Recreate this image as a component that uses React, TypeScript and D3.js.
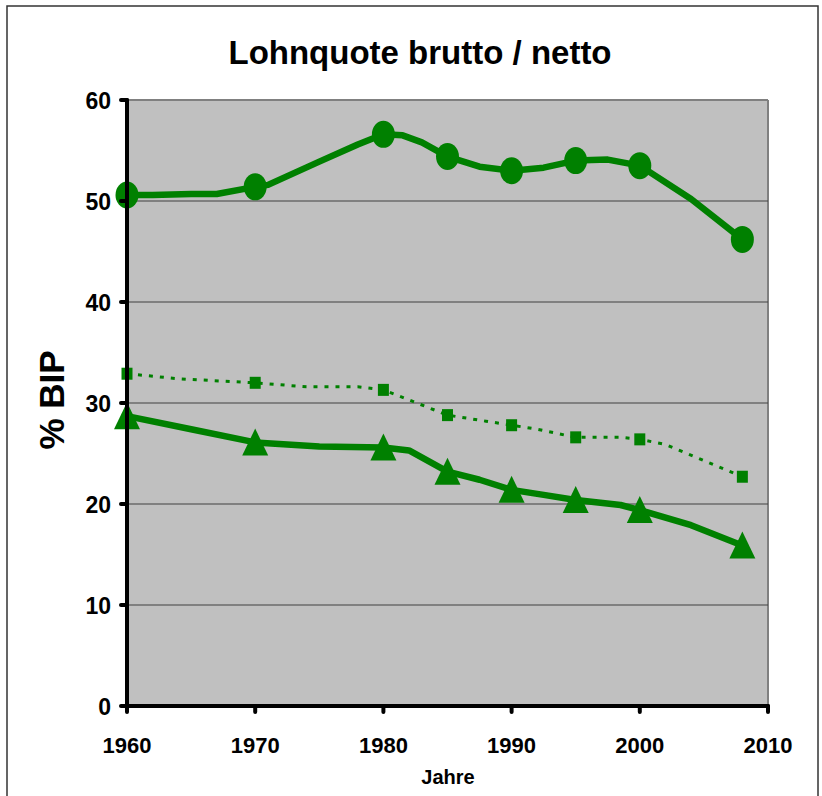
import React from "react";
import * as d3 from "d3";

const title = "Lohnquote brutto / netto";
const yTicks = [0, 10, 20, 30, 40, 50, 60];
const xTicks = [1960, 1970, 1980, 1990, 2000, 2010];
const markerYears = [1960, 1970, 1980, 1985, 1990, 1995, 2000, 2008];

const bruttoYears = [1960, 1962, 1965, 1967, 1970, 1971, 1975, 1978, 1980, 1981.5, 1983, 1985, 1987.5, 1990, 1992.5, 1995, 1997.5, 2000, 2004, 2008];
const bruttoValues = [50.6, 50.6, 50.7, 50.7, 51.4, 51.6, 53.9, 55.6, 56.6, 56.5, 55.8, 54.4, 53.4, 53.0, 53.3, 54.0, 54.1, 53.5, 50.2, 46.2];

const nettoYears = [1960, 1964, 1970, 1974, 1978, 1980, 1985, 1988, 1990, 1992, 1993.5, 1995, 1998.5, 2000, 2002, 2003.5, 2008];
const nettoValues = [32.9, 32.4, 32.0, 31.6, 31.6, 31.3, 28.8, 28.2, 27.8, 27.4, 27.0, 26.6, 26.6, 26.4, 25.9, 25.1, 22.7];

const lowerYears = [1960, 1965, 1970, 1975, 1980, 1982, 1985, 1987.5, 1990, 1992.5, 1995, 1998.5, 2000, 2004, 2008];
const lowerValues = [28.7, 27.4, 26.1, 25.7, 25.6, 25.3, 23.2, 22.4, 21.4, 20.9, 20.4, 19.9, 19.4, 17.9, 15.9];

const GREEN = "#008000";
const FONT = "'Liberation Sans', Arial, sans-serif";

type Pt = { x: number; y: number };
const zip = (xs: number[], ys: number[]): Pt[] => xs.map((x, i) => ({ x, y: ys[i] }));

export default function App() {
  const W = 822, H = 796;
  const x = d3.scaleLinear().domain([1960, 2010]).range([127, 768]);
  const y = d3.scaleLinear().domain([0, 60]).range([706, 100]);
  const line = d3.line<Pt>().x(d => x(d.x)).y(d => y(d.y)).curve(d3.curveLinear);

  const brutto = zip(bruttoYears, bruttoValues);
  const netto = zip(nettoYears, nettoValues);
  const lower = zip(lowerYears, lowerValues);
  const pick = (pts: Pt[]) => pts.filter(p => markerYears.includes(p.x));

  return (
    <div style={{ position: "absolute", left: 0, top: 0 }}>
      <svg width={W} height={H} style={{ display: "block" }}>
        <rect x={0} y={0} width={W} height={H} fill="#fff" />
        <rect x={7} y={6} width={811} height={800} fill="none" stroke="#333" strokeWidth={1.5} />
        <text x={420} y={64} textAnchor="middle" fontFamily={FONT} fontWeight="bold" fontSize={33}>{title}</text>
        {/* plot area */}
        <rect x={x(1960)} y={y(60)} width={x(2010) - x(1960)} height={y(0) - y(60)} fill="#C0C0C0" />
        <line x1={x(1960)} x2={x(2010)} y1={y(60)} y2={y(60)} stroke="#808080" strokeWidth={2} />
        <line x1={x(2010)} x2={x(2010)} y1={y(60)} y2={y(0)} stroke="#808080" strokeWidth={2} />
        {yTicks.filter(t => t > 0 && t < 60).map(t => (
          <line key={t} x1={x(1960)} x2={x(2010)} y1={y(t)} y2={y(t)} stroke="#404040" strokeWidth={1.2} />
        ))}
        {/* series */}
        <path d={line(netto) || ""} fill="none" stroke={GREEN} strokeWidth={3} strokeDasharray="4 7" />
        <path d={line(lower) || ""} fill="none" stroke={GREEN} strokeWidth={6.5} strokeLinejoin="round" />
        <path d={line(brutto) || ""} fill="none" stroke={GREEN} strokeWidth={6.5} strokeLinejoin="round" />
        {pick(netto).map(p => (
          <rect key={"n" + p.x} x={x(p.x) - 5.5} y={y(p.y) - 6} width={11} height={12} fill={GREEN} />
        ))}
        {pick(lower).map(p => {
          const cx = x(p.x), cy = y(p.y);
          return <path key={"l" + p.x} d={`M${cx},${cy - 14}L${cx + 13},${cy + 13}L${cx - 13},${cy + 13}Z`} fill={GREEN} />;
        })}
        {pick(brutto).map(p => (
          <ellipse key={"b" + p.x} cx={x(p.x)} cy={y(p.y)} rx={11.5} ry={13.5} fill={GREEN} />
        ))}
        {/* axes */}
        <line x1={x(1960)} x2={x(1960)} y1={y(60)} y2={y(0)} stroke="#000" strokeWidth={4} strokeLinecap="round" />
        <line x1={x(1960)} x2={x(2010)} y1={y(0)} y2={y(0)} stroke="#000" strokeWidth={4} strokeLinecap="round" />
        {yTicks.map(t => (
          <g key={"yt" + t}>
            <line x1={x(1960) - 6} x2={x(1960)} y1={y(t)} y2={y(t)} stroke="#000" strokeWidth={4} strokeLinecap="round" />
            <text x={111} y={y(t) + 8.5} textAnchor="end" fontFamily={FONT} fontWeight="bold" fontSize={23}>{t}</text>
          </g>
        ))}
        {xTicks.map(t => (
          <g key={"xt" + t}>
            <line x1={x(t)} x2={x(t)} y1={y(0)} y2={y(0) + 6} stroke="#000" strokeWidth={4} strokeLinecap="round" />
            <text x={x(t)} y={753} textAnchor="middle" fontFamily={FONT} fontWeight="bold" fontSize={22}>{t}</text>
          </g>
        ))}
        <text x={448} y={784} textAnchor="middle" fontFamily={FONT} fontWeight="bold" fontSize={20}>Jahre</text>
        <text transform="translate(64,400) rotate(-90)" textAnchor="middle" fontFamily={FONT} fontWeight="bold" fontSize={35}>% BIP</text>
      </svg>
    </div>
  );
}
